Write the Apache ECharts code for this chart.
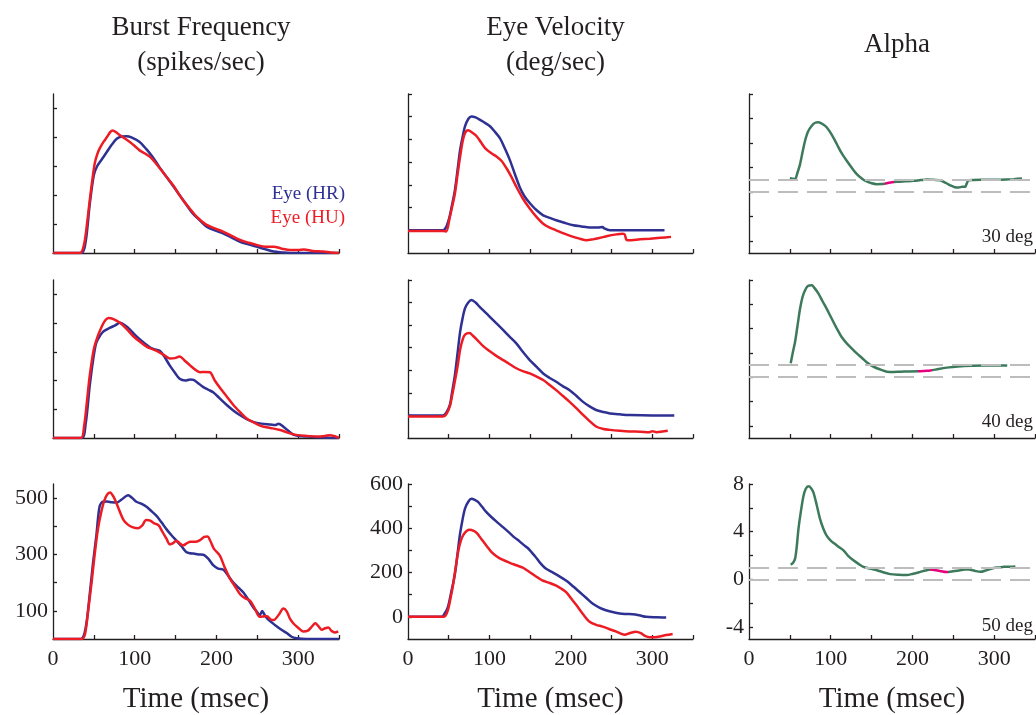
<!DOCTYPE html>
<html>
<head>
<meta charset="utf-8">
<script src="https://cdn.jsdelivr.net/npm/echarts@6/dist/echarts.min.js"></script>
<style>
html,body{margin:0;padding:0;background:#fff;}
#chart{width:1036px;height:715px;}
</style>
</head>
<body>
<div id="chart"></div>
<script>
// ---------- DATA ----------
var columnTitles = ['Burst Frequency\n(spikes/sec)', 'Eye Velocity\n(deg/sec)', 'Alpha'];
var rowLabels = ['30 deg', '40 deg', '50 deg'];
var seriesNames = ['Eye (HR)', 'Eye (HU)'];
var xTickLabels = [0, 100, 200, 300];
var burstTickLabels = [100, 300, 500];
var velTickLabels = [0, 200, 400, 600];
var alphaTickLabels = [-4, 0, 4, 8];
var alphaRefLines = [0, 1];
var magentaRanges = [[167, 177], [207, 224], [222, 243]];

// Burst frequency (spikes/sec) [time ms, value]
var burst30HR = [[0,0],[35,0],[40,40],[45,170],[50,270],[54,300],[60,325],[66,350],[72,375],[78,395],[84,403],[90,404],[96,400],[106,384],[114,360],[122,332],[130,298],[139,263],[147,232],[155,200],[163,168],[171,137],[180,112],[188,91],[198,78],[208,68],[218,54],[229,39],[239,30],[249,22],[260,13],[270,5],[280,2],[290,0],[350,0]];
var burst30HU = [[0,0],[33,0],[38,30],[42,110],[45,183],[48,250],[51,309],[54,340],[57,361],[62,385],[66,401],[70,418],[73,424],[77,418],[82,407],[88,396],[94,384],[100,370],[106,355],[112,345],[119,332],[125,313],[131,292],[139,263],[147,234],[153,208],[159,183],[167,155],[176,125],[182,110],[188,97],[198,85],[208,74],[218,60],[229,45],[239,36],[249,28],[260,22],[270,22],[280,15],[290,10],[300,10],[307,12],[318,7],[331,5],[340,2],[350,0]];
var burst40HR = [[0,0],[35,0],[40,50],[45,183],[49,270],[53,332],[58,358],[62,372],[70,384],[76,392],[82,401],[88,392],[94,378],[100,360],[106,344],[112,330],[119,315],[125,308],[131,303],[137,280],[143,252],[149,228],[155,206],[162,200],[168,204],[172,202],[178,190],[184,177],[190,168],[196,159],[204,138],[213,114],[221,95],[229,79],[237,66],[245,56],[255,50],[266,47],[272,45],[276,50],[282,39],[288,25],[294,12],[302,7],[311,5],[322,3],[335,1],[350,0]];
var burst40HU = [[0,0],[34,0],[38,40],[42,140],[45,218],[50,310],[55,356],[60,390],[64,410],[68,418],[74,414],[82,401],[90,380],[98,355],[106,336],[115,317],[121,310],[127,303],[135,290],[143,277],[149,278],[155,284],[161,270],[168,252],[174,238],[180,229],[186,230],[192,229],[198,200],[205,172],[213,143],[221,114],[229,90],[237,68],[245,55],[252,45],[258,39],[266,35],[278,28],[288,18],[299,10],[311,7],[323,5],[333,7],[339,10],[345,6],[350,0]];
var burst50HR = [[0,0],[34,0],[40,40],[45,160],[49,270],[53,366],[57,470],[61,487],[66,488],[72,485],[78,484],[84,495],[92,510],[97,500],[102,487],[108,480],[114,470],[120,455],[127,436],[133,413],[139,389],[145,368],[151,349],[157,330],[163,309],[168,304],[172,303],[178,300],[184,299],[190,285],[196,262],[202,250],[209,245],[215,222],[221,199],[227,182],[233,165],[239,140],[245,113],[250,95],[253,84],[256,99],[259,85],[262,73],[268,58],[274,44],[280,32],[286,21],[292,8],[298,3],[310,0],[350,0]];
var burst50HU = [[0,0],[35,0],[39,15],[43,100],[47,195],[51,300],[55,390],[59,450],[63,493],[67,515],[70,520],[73,510],[76,493],[80,465],[86,424],[92,405],[98,396],[104,393],[109,402],[114,422],[119,420],[124,410],[129,404],[134,380],[139,355],[143,336],[147,340],[151,349],[155,340],[159,332],[164,340],[168,345],[174,345],[180,351],[185,362],[189,364],[193,345],[197,320],[204,297],[210,255],[216,217],[222,190],[229,159],[235,145],[241,136],[247,108],[253,79],[258,80],[262,81],[266,70],[270,67],[276,85],[282,108],[286,98],[290,72],[294,56],[300,40],[306,27],[312,30],[317,45],[321,56],[325,45],[329,33],[333,38],[337,41],[341,28],[345,23],[349,27]];

// Eye velocity (deg/sec)
var vel30HR = [[0,0],[43,0],[47,15],[51,59],[54,110],[57.6,177],[61,270],[64,354],[67,410],[70,457],[74,490],[78,501],[83,497],[88,487],[95,472],[101,457],[107,432],[113,405],[119,360],[125,310],[131,250],[137,192],[143,150],[150,118],[158,88],[166,66],[174,55],[182,44],[192,33],[203,22],[213,17],[223,12],[233,12],[239,15],[241,8],[248,0],[264,0],[290,0],[315,0]];
var vel30HU = [[0,-3],[43,-3],[47,-5],[51,52],[54,100],[57.6,162],[61,250],[64,324],[67,390],[70,428],[74,440],[78,432],[84.6,413],[90,385],[95,361],[102,340],[109,324],[115,305],[121,273],[127,235],[133,192],[141,140],[149.5,96],[158,58],[166,29],[174,12],[182,0],[192,-15],[203,-29],[211,-37],[219,-44],[227,-40],[235,-34],[245,-25],[256,-18],[263,-15],[266,-18],[268,-40],[270,-44],[285,-40],[297,-37],[310,-33],[323,-29]];
var vel40HR = [[0,0],[43,0],[47,12],[51.5,48],[54,100],[57.6,178],[61,280],[64,370],[67,430],[70,474],[74,500],[78,511],[83,500],[88,481],[94,460],[100.5,437],[108,410],[117,378],[125,348],[133,319],[141,282],[149.5,245],[158,215],[166,186],[174,166],[182,149],[190,130],[198.5,112],[207,86],[215,60],[223,40],[231,24],[240,15],[248,9],[260,5],[272,2],[300,0],[327,0]];
var vel40HU = [[0,-5],[43,-5],[47,5],[51.5,41],[54,85],[57.6,152],[61,220],[64,291],[67,335],[70,358],[75.5,365],[80,352],[84.6,336],[92,308],[100.5,284],[108,265],[117,245],[125,227],[133,209],[141,196],[149.5,186],[158,172],[166,157],[174,135],[182,112],[190,87],[198.5,60],[207,31],[215,2],[223,-25],[231,-49],[240,-60],[248,-64],[260,-68],[272,-71],[285,-72],[296.6,-74],[300,-70],[305,-74],[319,-68]];
var vel50HR = [[0,0],[41,0],[45,15],[49,44],[53,110],[57.6,193],[61,290],[63.7,370],[67,440],[70,489],[74,520],[78,533],[82,528],[86,519],[91,497],[96,474],[102,452],[108.7,430],[117,404],[125,378],[131,358],[137,341],[142,325],[147,311],[151,295],[156,274],[162,245],[168,222],[173,210],[178,200],[186,183],[194.5,163],[203,137],[211,111],[219,85],[227,59],[235,42],[243,30],[251,22],[260,15],[268,13],[276,12],[284,7],[292.6,0],[305,-2],[317,-3]];
var vel50HU = [[0,0],[43,0],[46,5],[49,30],[52,80],[55.5,148],[58,210],[61.7,296],[65,345],[68,370],[72,388],[76,393],[80,389],[84.6,378],[90,352],[96.8,319],[102,295],[108.7,274],[116,258],[125,244],[133,233],[141,222],[147,208],[153,193],[160,176],[166,163],[174,153],[182,141],[188,128],[194.5,111],[200,85],[207,52],[215,12],[223,-22],[231,-36],[239,-44],[247,-55],[256,-67],[262,-77],[266,-81],[272,-74],[280,-67],[286,-74],[291,-86],[297,-92],[303,-92],[309,-89],[317,-82],[325,-77]];

// Alpha
var alpha30 = [[50,1.12],[53,1.08],[56.4,1.04],[59,1.5],[62.5,2.27],[66,3.4],[68.6,4.18],[72,4.9],[76.8,5.41],[81,5.65],[85,5.69],[90,5.55],[95,5.28],[101,4.7],[107.4,3.91],[113,3.2],[119.6,2.54],[126,1.95],[131.9,1.45],[138,1.1],[144,0.85],[150,0.7],[156.5,0.63],[162,0.64],[168.8,0.71],[175,0.78],[181,0.82],[191,0.86],[201.4,0.9],[210,0.96],[218,1.01],[226,0.98],[234,0.95],[240,0.76],[244,0.62],[248,0.49],[252,0.38],[256.5,0.35],[261,0.42],[264.7,0.41],[266,0.6],[268.8,0.95],[275,0.97],[283,0.98],[293,0.98],[303.5,0.98],[314,1.0],[324,1.04],[334,1.09]];
var alpha40 = [[51,1.15],[53.5,2.0],[56.4,2.92],[59.5,4.3],[62.5,5.65],[65.5,6.6],[68.6,7.16],[72,7.5],[76.8,7.57],[80,7.35],[85,6.88],[90,6.25],[95,5.65],[101,4.85],[107.4,4.01],[113,3.35],[119.6,2.78],[126,2.35],[131.9,1.96],[138,1.6],[144,1.23],[150,0.95],[156.5,0.74],[162,0.6],[168.8,0.46],[177,0.44],[185,0.46],[196,0.47],[207,0.49],[215,0.52],[222,0.55],[232,0.68],[242,0.79],[252,0.86],[263,0.93],[275,0.95],[287,0.96],[300,0.96],[316,0.96]];
var alpha50 = [[51,1.24],[54,1.4],[56.4,1.74],[58.5,2.8],[60.5,4.22],[63.5,5.7],[66.6,6.98],[69.5,7.6],[72.8,7.81],[76,7.65],[79,7.26],[83,6.2],[87,5.05],[91,4.25],[95,3.67],[100,3.25],[105,2.98],[110,2.72],[115.6,2.43],[121,2.0],[127.8,1.6],[134,1.3],[140,1.05],[148,0.9],[156.5,0.77],[164,0.6],[172.8,0.44],[183,0.38],[193,0.36],[201,0.48],[209.5,0.63],[216,0.75],[222,0.83],[232,0.72],[242,0.61],[250,0.68],[258.6,0.77],[264,0.82],[269,0.83],[276,0.72],[283,0.63],[291,0.78],[299.5,0.96],[306,1.0],[312,1.05],[319,1.06],[326,1.08]];

// ---------- LAYOUT / STYLE ----------
var FONT = '"Liberation Serif", "DejaVu Serif", serif';
var INK = '#231f20';
var BLUE = '#2e3192';
var RED = '#ed1c24';
var GREEN = '#3d7a5c';
var MAGENTA = '#e6007e';
var colLeft = [53, 408, 749];
var colWidth = [286, 285, 286];
var rowTop = [94, 280, 484];
var rowHeight = [159, 158, 158];

var burstData = [[burst30HR, burst30HU], [burst40HR, burst40HU], [burst50HR, burst50HU]];
var velData = [[vel30HR, vel30HU], [vel40HR, vel40HU], [vel50HR, vel50HU]];
var alphaData = [alpha30, alpha40, alpha50];

var yCfg = [
  {min: 0, max: 550, ticks: [100, 200, 300, 400, 500], labels: burstTickLabels},
  {min: -100, max: 600, ticks: [0, 100, 200, 300, 400, 500, 600], labels: velTickLabels},
  {min: -5, max: 8, ticks: [-4, -2, 0, 2, 4, 6, 8], labels: alphaTickLabels}
];

var grids = [], xAxes = [], yAxes = [], series = [], visualMaps = [], graphics = [];
var axisLineStyle = {color: INK, width: 1.3};

for (var r = 0; r < 3; r++) {
  for (var c = 0; c < 3; c++) {
    var idx = r * 3 + c;
    var bottom = (r === 2);
    grids.push({left: colLeft[c], top: rowTop[r], width: colWidth[c], height: rowHeight[r], containLabel: false});
    xAxes.push({
      type: 'value', gridIndex: idx, min: 0, max: 350,
      axisLine: {show: true, onZero: false, lineStyle: axisLineStyle},
      axisTick: {show: true, inside: true, length: 4, lineStyle: axisLineStyle,
                 customValues: [50, 100, 150, 200, 250, 300, 350]},
      axisLabel: {show: bottom, customValues: xTickLabels, margin: 9,
                  fontFamily: FONT, fontSize: 22, color: INK},
      splitLine: {show: false},
      name: bottom ? 'Time (msec)' : '',
      nameLocation: 'middle', nameGap: 46,
      nameTextStyle: {fontFamily: FONT, fontSize: 29, color: INK}
    });
    var yc = yCfg[c];
    yAxes.push({
      type: 'value', gridIndex: idx, min: yc.min, max: yc.max,
      axisLine: {show: true, onZero: false, lineStyle: axisLineStyle},
      axisTick: {show: true, inside: true, length: 4, lineStyle: axisLineStyle, customValues: yc.ticks},
      axisLabel: {show: bottom, customValues: yc.labels, margin: 5,
                  fontFamily: FONT, fontSize: 22, color: INK},
      splitLine: {show: false}
    });
    if (c < 2) {
      var pair = (c === 0 ? burstData : velData)[r];
      [BLUE, RED].forEach(function (col, k) {
        series.push({
          type: 'line', name: seriesNames[k], xAxisIndex: idx, yAxisIndex: idx,
          data: pair[k], showSymbol: false, smooth: 0.3, animation: false,
          lineStyle: {color: col, width: 2.5}, itemStyle: {color: col}, z: 3 + k
        });
      });
    } else {
      var sIdx = series.length;
      series.push({
        type: 'line', name: 'Alpha ' + rowLabels[r], xAxisIndex: idx, yAxisIndex: idx,
        data: alphaData[r], showSymbol: false, smooth: 0.3, animation: false,
        lineStyle: {width: 2.5}, z: 4,
        markLine: {
          silent: true, symbol: 'none', animation: false,
          label: {show: false},
          lineStyle: {color: '#bdbdbd', type: [20, 9], width: 2.2},
          data: alphaRefLines.map(function (v) { return {yAxis: v}; })
        }
      });
      visualMaps.push({
        type: 'piecewise', show: false, seriesIndex: sIdx, dimension: 0,
        pieces: [{gte: magentaRanges[r][0], lte: magentaRanges[r][1], color: MAGENTA}],
        outOfRange: {color: GREEN}
      });
      graphics.push({
        type: 'text', right: 3, top: rowTop[r] + rowHeight[r] - 25,
        style: {text: rowLabels[r], font: '19px ' + FONT, fill: INK}
      });
    }
  }
}

// legend text in first panel
graphics.push({type: 'text', right: 1036 - 345, top: 185,
  style: {text: seriesNames[0], font: '19px ' + FONT, fill: BLUE, textAlign: 'right'}});
graphics.push({type: 'text', right: 1036 - 345, top: 209,
  style: {text: seriesNames[1], font: '19px ' + FONT, fill: RED, textAlign: 'right'}});

var titles = columnTitles.map(function (t, c) {
  return {
    text: t, left: colLeft[c] + colWidth[c] / 2, top: c === 2 ? 22 : 5, textAlign: 'center',
    textStyle: {fontFamily: FONT, fontSize: 27, fontWeight: 'normal', color: INK, lineHeight: 35}
  };
});

var chart = echarts.init(document.getElementById('chart'), null, {renderer: 'canvas'});
chart.setOption({
  backgroundColor: '#fff',
  animation: false,
  title: titles,
  grid: grids,
  xAxis: xAxes,
  yAxis: yAxes,
  visualMap: visualMaps,
  series: series,
  graphic: graphics
});
</script>
</body>
</html>
